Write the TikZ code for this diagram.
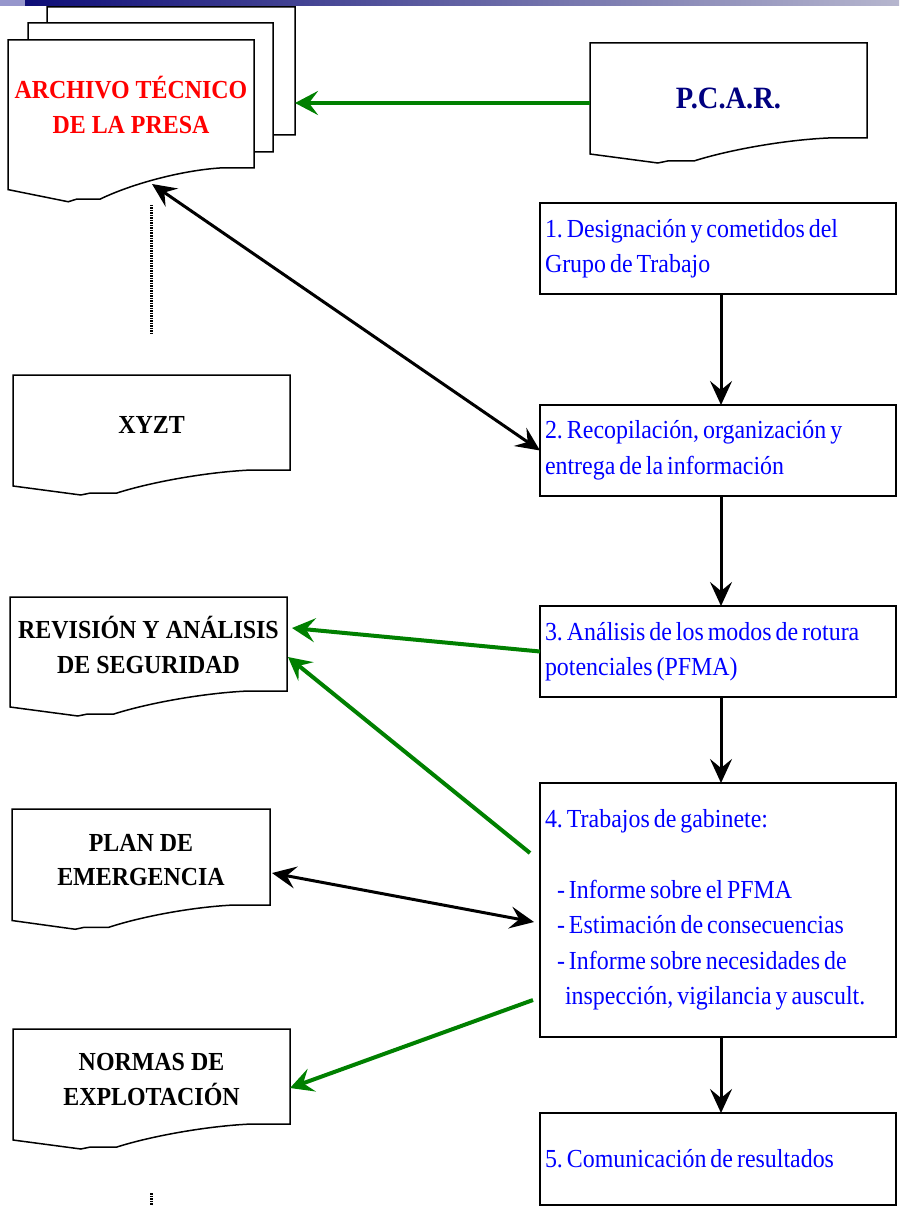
\documentclass[tikz,border=0pt]{standalone}
\usepackage{fontspec}
\setmainfont{Liberation Serif}[FakeStretch=0.92]
\usetikzlibrary{arrows.meta,calc}
\frenchspacing
\definecolor{grn}{RGB}{0,128,0}
\definecolor{navytxt}{RGB}{0,0,128}
\definecolor{stepblue}{RGB}{0,0,255}
\definecolor{barlav}{RGB}{150,150,204}
\definecolor{bardark}{RGB}{14,14,120}
\definecolor{barlight}{RGB}{182,182,206}

% document outline (wavy bottom) around an empty frame node
% #1 node name, #2 width, #3 depth factor of the wave
\newcommand\docframe[3]{%
  \draw[docline] (#1.south east) -- (#1.north east) -- (#1.north west)
    -- ($(#1.south west)+(0,16*#3)$)
    -- ($(#1.south west)+(0.245*#2,25*#3)$)
    -- ($(#1.south west)+(0.28*#2,23*#3)$)
    -- ($(#1.south west)+(0.375*#2,23*#3)$)
    .. controls ($(#1.south west)+(0.5*#2,12*#3)$) and ($(#1.south west)+(0.7*#2,2*#3)$)
    .. ($(#1.south west)+(0.86*#2,0)$) -- cycle;}

% word spacing inside nodes (set after the alignment code)
\newcommand\labelgap{\spaceskip=6pt plus 1pt\xspaceskip=6pt plus 1pt\relax}
\newcommand\stepgap{\spaceskip=4pt plus 1pt\xspaceskip=4pt plus 1pt\relax}

\begin{document}
\begin{tikzpicture}[x=1pt,y=-1pt,
  frame/.style={rectangle, inner sep=0pt, outer sep=0pt},
  docline/.style={draw=black, line width=1.5pt, fill=white, line join=miter},
  doclabel/.style={font=\bfseries\fontsize{26}{34.5}\selectfont,
    align=center, inner sep=0pt, execute at begin node=\labelgap},
  stepbox/.style={draw=black, line width=1.5pt, rectangle, outer sep=0pt,
    minimum width=356pt, minimum height=91pt, text width=346pt,
    inner xsep=5pt, inner ysep=0pt, align=left, text=stepblue,
    font=\fontsize{26}{35.5}\selectfont, execute at begin node=\stepgap},
  blackarrow/.style={line width=3pt, draw=black,
    -{Stealth[length=24pt,width=22pt,inset=9pt]}},
  blackboth/.style={line width=3pt, draw=black,
    {Stealth[length=24pt,width=22pt,inset=9pt]}-{Stealth[length=24pt,width=22pt,inset=9pt]}},
  greenarrow/.style={line width=4pt, draw=grn,
    -{Stealth[length=23pt,width=24pt,inset=9pt]}},
  dotline/.style={line width=3pt, dash pattern=on 1.5pt off 1pt}
]
\useasboundingbox (0,0) rectangle (899,1206);

% title bar
\fill[barlav] (0,0) rectangle (25,6);
\shade[left color=bardark, right color=barlight] (25,0) rectangle (899,6);

% stacked archive pages (back to front)
\node[frame, minimum width=248pt, minimum height=128pt] (arch3) at (171,71) {};
\docframe{arch3}{248}{1.35}
\node[frame, minimum width=245pt, minimum height=129pt] (arch2) at (150.5,87.5) {};
\docframe{arch2}{245}{1.35}
\node[frame, minimum width=246pt, minimum height=128pt] (arch1) at (131,104) {};
\docframe{arch1}{246}{1.35}
\node[doclabel, text=red] (archtext) at ($(arch1.center)+(0,1)$) {ARCHIVO TÉCNICO\\DE LA PRESA};

% P.C.A.R.
\node[frame, minimum width=277pt, minimum height=95pt] (pcar) at (728.5,90.5) {};
\docframe{pcar}{277}{1}
\node[doclabel, text=navytxt, font=\bfseries\fontsize{31}{36}\selectfont] (pcartext)
  at ($(pcar.center)+(0,7.5)$) {P.C.A.R.};

% left column documents
\node[frame, minimum width=277pt, minimum height=95pt] (xyzt) at (151.5,422.5) {};
\docframe{xyzt}{277}{1}
\node[doclabel] (xyzttext) at ($(xyzt.center)+(0,2)$) {XYZT};

\node[frame, minimum width=277pt, minimum height=94pt] (rev) at (148.5,644) {};
\docframe{rev}{277}{1}
\node[doclabel] (revtext) at ($(rev.center)+(0,1)$) {REVISIÓN Y ANÁLISIS\\DE SEGURIDAD};

\node[frame, minimum width=258pt, minimum height=96pt] (plan) at (141,857) {};
\docframe{plan}{258}{0.97}
\node[doclabel] (plantext) at ($(plan.center)+(0,3)$) {PLAN DE\\EMERGENCIA};

\node[frame, minimum width=277pt, minimum height=95pt] (normas) at (151.5,1076.5) {};
\docframe{normas}{277}{1}
\node[doclabel] (normastext) at ($(normas.center)+(0,3)$) {NORMAS DE\\EXPLOTACIÓN};

% process steps
\node[stepbox] (b1) at (718,248.5) {1. Designación y cometidos del\\Grupo de Trabajo};
\node[stepbox] (b2) at (718,450.5) {2. Recopilación, organización y\\entrega de la información};
\node[stepbox] (b3) at (718,651.5) {3. Análisis de los modos de rotura\\potenciales (PFMA)};
\node[stepbox, minimum height=254pt] (b4) at (718,910)
  {4. Trabajos de gabinete:\\[35.5pt]
   \hspace*{12pt}- Informe sobre el PFMA\\
   \hspace*{12pt}- Estimación de consecuencias\\
   \hspace*{12pt}- Informe sobre necesidades de\\
   \hspace*{20pt}inspección, vigilancia y auscult.};
\node[stepbox, minimum height=92pt] (b5) at (718,1159) {5. Comunicación de resultados};

% flow between steps
\draw[blackarrow] ($(b1.south)+(3,0)$) -- ($(b2.north)+(3,0)$);
\draw[blackarrow] ($(b2.south)+(3,0)$) -- ($(b3.north)+(3,0)$);
\draw[blackarrow] ($(b3.south)+(3,0)$) -- ($(b4.north)+(3,0)$);
\draw[blackarrow] ($(b4.south)+(3,0)$) -- ($(b5.north)+(3,0)$);

% links to the documents
\draw[greenarrow] ($(pcar.west)+(0,12.5)$) -- ($(arch3.east)+(0,32)$);
\draw[blackboth] ($(arch1.south west)+(144,16)$) -- (b2.west);
\draw[greenarrow] (b3.west) -- ($(rev.east)+(5,-16)$);
\draw[greenarrow] ($(b4.west)+(-10,-57)$) -- ($(rev.east)+(1,13)$);
\draw[blackboth] ($(plan.east)+(2,16)$) -- ($(b4.west)+(-6,12)$);
\draw[greenarrow] ($(b4.west)+(-7,90)$) -- ($(normas.east)+(0,11.5)$);

% dotted guide lines
\coordinate (dot1a) at (151,205);
\coordinate (dot1b) at (151,333);
\coordinate (dot2a) at (151,1193);
\coordinate (dot2b) at (151,1206);
\draw[dotline] (dot1a) -- (dot1b);
\draw[dotline] (dot2a) -- (dot2b);
\end{tikzpicture}
\end{document}
